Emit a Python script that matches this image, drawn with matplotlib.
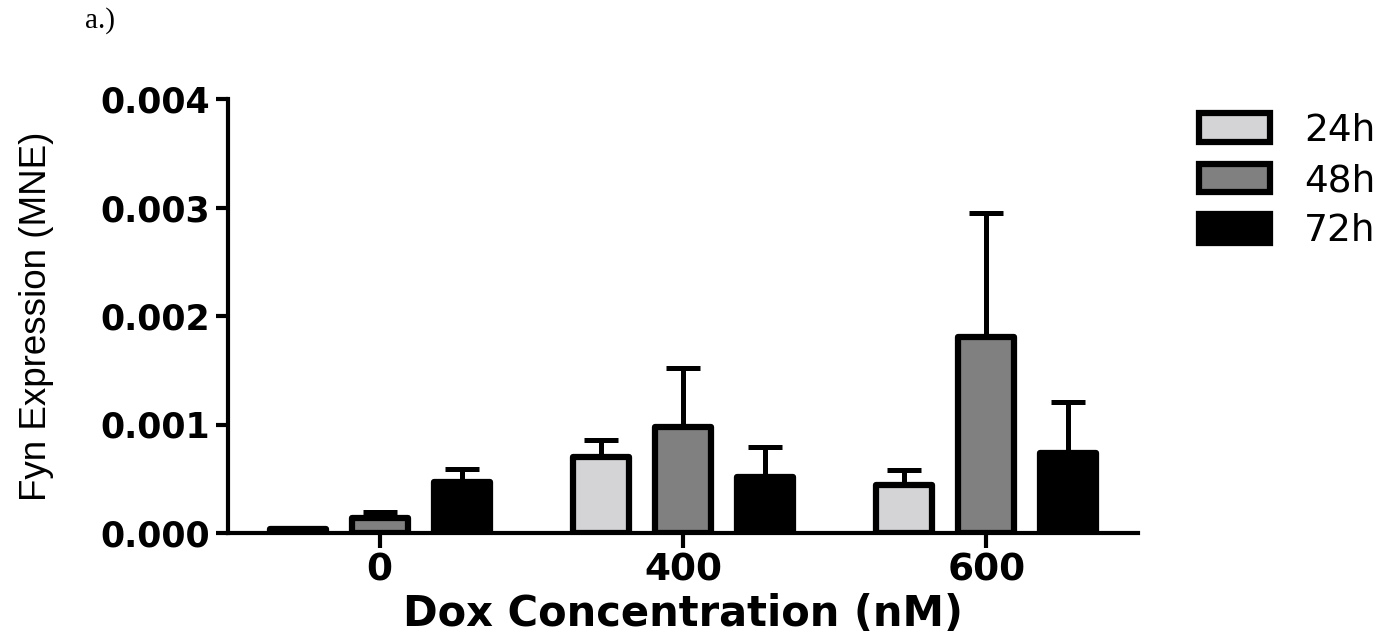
import numpy as np
import matplotlib
matplotlib.use('Agg')
import matplotlib.pyplot as plt

# Data
doses = ['0', '400', '600']
series = ['24h', '48h', '72h']
means_24 = [0.00004, 0.00070, 0.00044]
means_48 = [0.00014, 0.00098, 0.00181]
means_72 = [0.00047, 0.00052, 0.00074]
err_24 = [0.00001, 0.00016, 0.00014]
err_48 = [0.00005, 0.00054, 0.00114]
err_72 = [0.00012, 0.00027, 0.00047]
yticks = [0.000, 0.001, 0.002, 0.003, 0.004]

colors = ['#d4d4d6', '#808080', '#000000']
means = [means_24, means_48, means_72]
errs = [err_24, err_48, err_72]

fig = plt.figure(figsize=(14, 6.36), dpi=100)
ax = fig.add_axes([228 / 1400, 1 - 533 / 636, 910 / 1400, 434 / 636])

x = np.arange(len(doses))
offset = 0.27
width = 0.185

for i, name in enumerate(series):
    pos = x + (i - 1) * offset
    ax.errorbar(pos, means[i], yerr=[np.zeros(len(doses)), errs[i]],
                fmt='none', ecolor='black', elinewidth=3.6,
                capsize=12, capthick=3.6, zorder=2)
    ax.bar(pos, means[i], width, color=colors[i], edgecolor='black',
           linewidth=4.5, joinstyle='round', label=name, zorder=3)

ax.set_xlim(-0.5, 2.5)
ax.set_ylim(0, 0.004)
ax.set_xticks(x)
ax.set_xticklabels(doses, fontsize=27, fontweight='bold', family='DejaVu Sans')
ax.set_yticks(yticks)
ax.set_yticklabels(['%.3f' % v for v in yticks], fontsize=25,
                   fontweight='bold', family='DejaVu Sans')

for side in ['top', 'right']:
    ax.spines[side].set_visible(False)
for side in ['left', 'bottom']:
    ax.spines[side].set_linewidth(3)
ax.tick_params(axis='both', width=3, length=9, pad=4)
ax.tick_params(axis='x', length=11, pad=3)

ax.set_xlabel('Dox Concentration (nM)', fontsize=30, fontweight='bold',
              family='DejaVu Sans', labelpad=3)
ax.set_ylabel('Fyn Expression (MNE)', fontsize=26.5, family='Liberation Sans',
              labelpad=33)

leg = ax.legend(loc='upper left', bbox_to_anchor=(1.03, 1.046), frameon=False,
                prop={'family': 'DejaVu Sans', 'size': 27},
                handlelength=1.9, handleheight=0.8, handletextpad=0.9,
                labelspacing=0.38)

fig.text(85 / 1400, 1 - 21 / 636, 'a.)', fontsize=21, family='Liberation Serif',
         va='center', ha='left')

plt.savefig('out.png', dpi=100)
